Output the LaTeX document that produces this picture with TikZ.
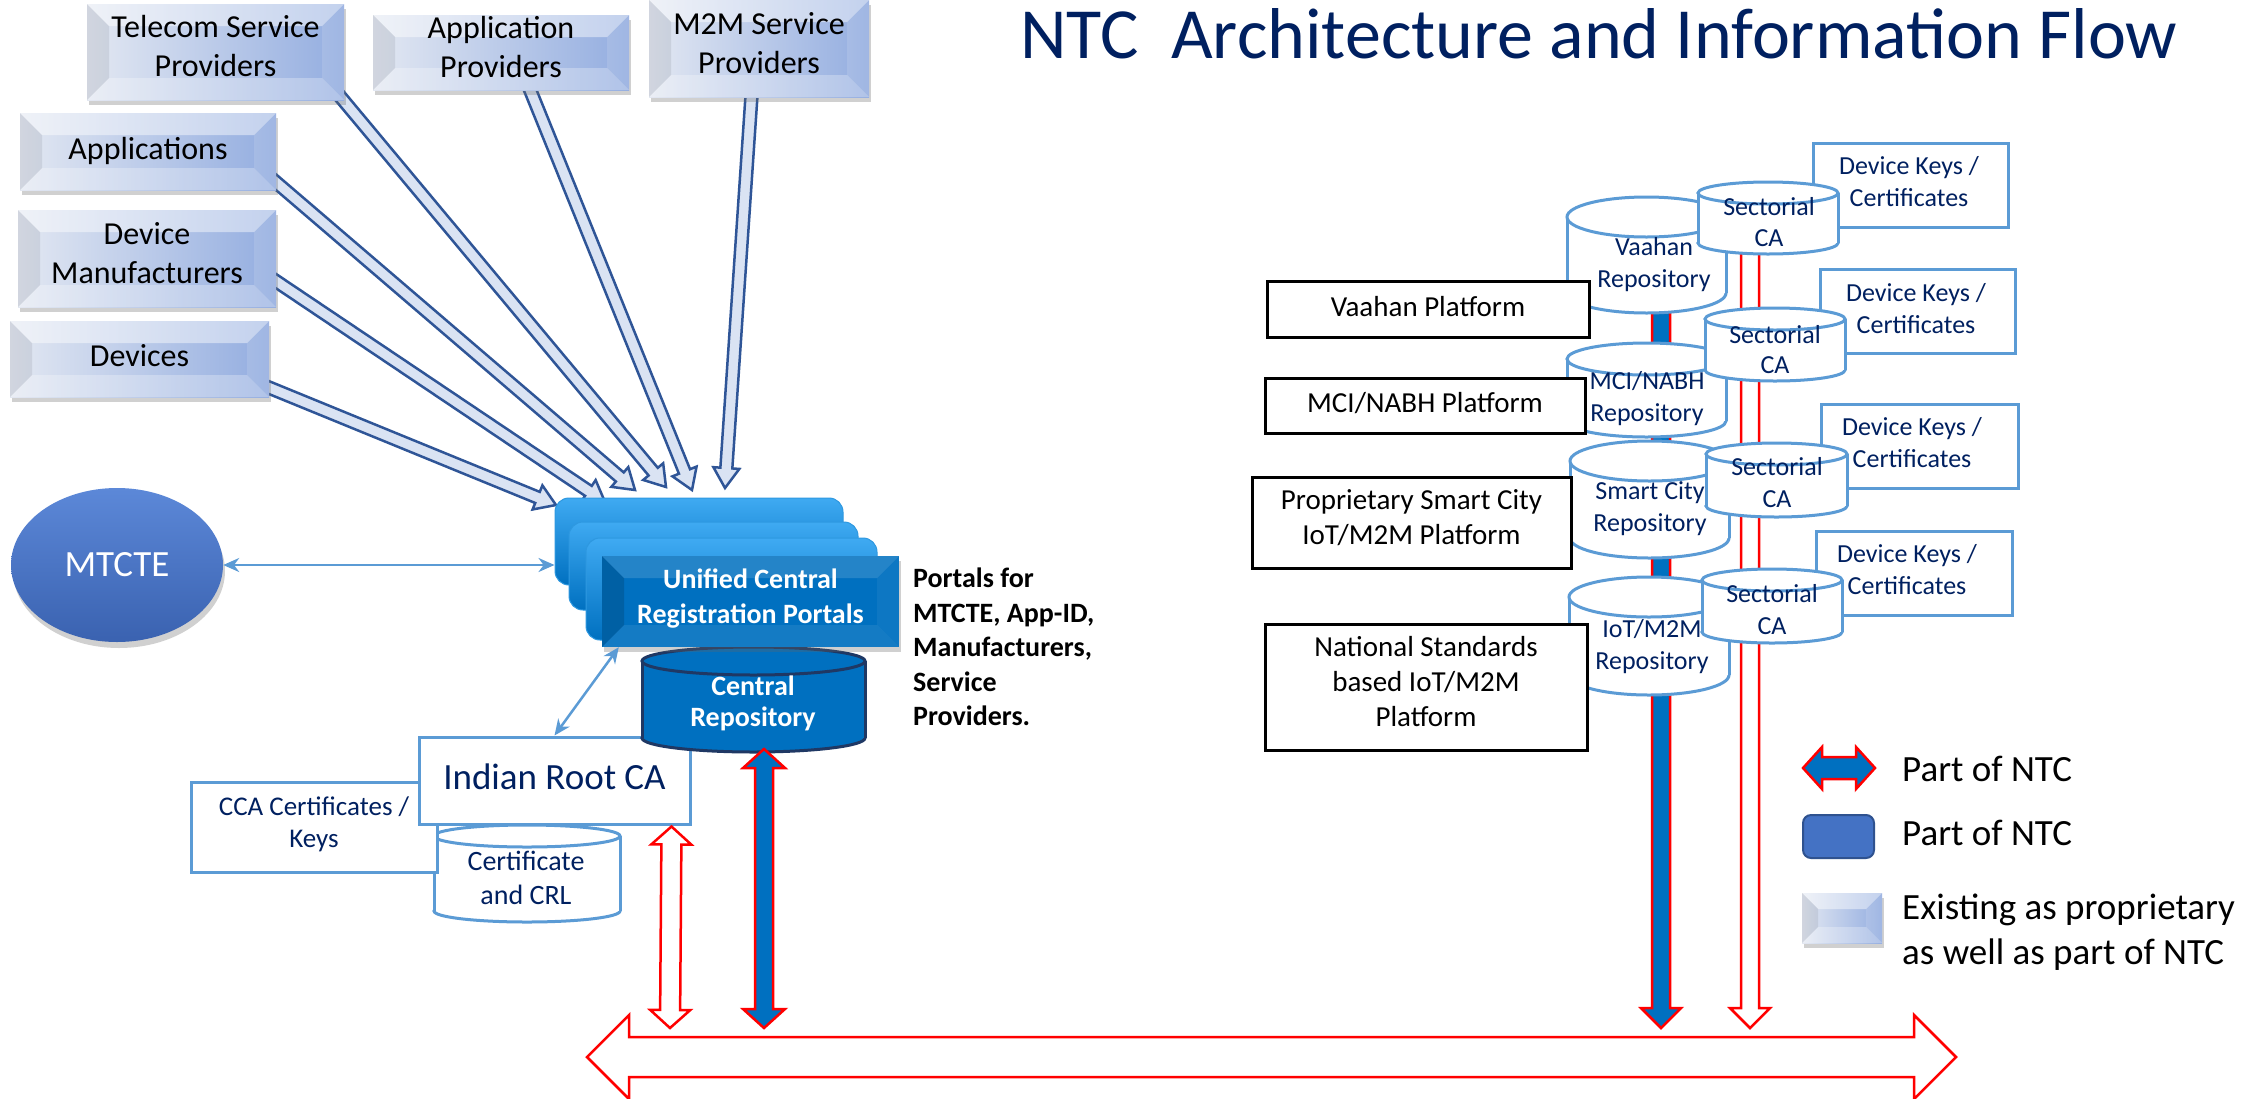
\documentclass[tikz,border=0pt]{standalone}
\usepackage{fontspec}
\setmainfont{Carlito}
\usetikzlibrary{calc,shapes.geometric,shadows,arrows.meta}
\pgfdeclarelayer{bgzero}
\pgfdeclarelayer{background}
\pgfsetlayers{bgzero,background,main}
\definecolor{navy}{HTML}{002060}
\definecolor{lbord}{HTML}{5B9BD5}
\definecolor{ntcblue}{HTML}{0070C0}
\definecolor{legblue}{HTML}{4472C4}
\definecolor{legbord}{HTML}{2F528F}
\definecolor{arrfill}{HTML}{DAE3F3}
\definecolor{arrbord}{HTML}{2F5597}
\definecolor{bvL}{HTML}{E3E8F2}
\definecolor{bvR}{HTML}{93ADE0}
\definecolor{crbord}{HTML}{1F3864}
\definecolor{pbtop}{HTML}{3FAAF2}
\definecolor{pbedge}{HTML}{2E98E0}
\definecolor{mtop}{HTML}{5C88D8}
\definecolor{mbot}{HTML}{3A62B0}
\newcommand{\fsz}[2]{\fontsize{#1}{#2}\selectfont}
\newcommand{\cylin}[6]{%
  \pgfmathsetmacro{\cylcx}{(#2+#3)/2}%
  \pgfmathsetlengthmacro{\cylrx}{(#3-#2)/2}%
  \draw[#1] (\cylcx,#5-#6) ellipse [x radius=\cylrx, y radius=#6pt];
  \fill[#1,draw=none] (#2,#4+#6) rectangle (#3,#5-#6);
  \draw[#1,fill=none] (#2,#4+#6) -- (#2,#5-#6) (#3,#4+#6) -- (#3,#5-#6);
  \draw[#1] (\cylcx,#4+#6) ellipse [x radius=\cylrx, y radius=#6pt];
}
% double headed block arrow: style, A, B, shaft half width, head half width, head length
\newcommand{\dblarrow}[6]{%
  \coordinate (da-1) at ($(#2)!#6!(#3)$);
  \coordinate (da-2) at ($(#3)!#6!(#2)$);
  \draw[#1] (#2) -- ($(da-1)!#5!90:(#3)$) -- ($(da-1)!#4!90:(#3)$) -- ($(da-2)!#4!90:(#3)$)
    -- ($(da-2)!#5!90:(#3)$) -- (#3) -- ($(da-2)!#5!-90:(#3)$) -- ($(da-2)!#4!-90:(#3)$)
    -- ($(da-1)!#4!-90:(#3)$) -- ($(da-1)!#5!-90:(#3)$) -- cycle;
}
% single headed block arrow
\newcommand{\sglarrow}[6]{%
  \coordinate (sa-1) at ($(#3)!#6!(#2)$);
  \draw[#1] ($(#2)!#4!90:(#3)$) -- ($(sa-1)!#4!90:(#3)$) -- ($(sa-1)!#5!90:(#3)$) -- (#3)
    -- ($(sa-1)!#5!-90:(#3)$) -- ($(sa-1)!#4!-90:(#3)$) -- ($(#2)!#4!-90:(#3)$) -- cycle;
}
\newcommand{\bevelpic}[5]{%
 \fill[white,opacity=#1] (path picture bounding box.north west) -- (path picture bounding box.north east) -- ([shift={(-#5pt,-#5pt)}]path picture bounding box.north east) -- ([shift={(#5pt,-#5pt)}]path picture bounding box.north west) -- cycle;
 \fill[black,opacity=#2] (path picture bounding box.north west) -- ([shift={(#5pt,-#5pt)}]path picture bounding box.north west) -- ([shift={(#5pt,#5pt)}]path picture bounding box.south west) -- (path picture bounding box.south west) -- cycle;
 \fill[white,opacity=#3] (path picture bounding box.north east) -- ([shift={(-#5pt,-#5pt)}]path picture bounding box.north east) -- ([shift={(-#5pt,#5pt)}]path picture bounding box.south east) -- (path picture bounding box.south east) -- cycle;
 \fill[white,opacity=#4] (path picture bounding box.south west) -- ([shift={(#5pt,#5pt)}]path picture bounding box.south west) -- ([shift={(-#5pt,#5pt)}]path picture bounding box.south east) -- (path picture bounding box.south east) -- cycle;
}
\begin{document}
\begin{tikzpicture}[x=1pt,y=-1pt,
  tx/.style={inner sep=0pt, align=center, execute at begin node=\strut, execute at end node=\strut},
  bevelbox/.style={tx, left color=bvL, right color=bvR, draw=none, font=\fsz{32}{39}, text=black,
     drop shadow={shadow xshift=2pt, shadow yshift=-5pt, opacity=.3, fill=black!60},
     path picture={\bevelpic{.45}{.08}{.12}{.28}{22}}},
  frontbox/.style={tx, fill=ntcblue, draw=none, font=\bfseries\fsz{28}{35}, text=white,
     drop shadow={shadow xshift=2pt, shadow yshift=-5pt, opacity=.3, fill=black!60},
     path picture={\bevelpic{.14}{.14}{.05}{.08}{22}}},
  portback/.style={rounded corners=14pt, top color=pbtop, bottom color=ntcblue, draw=pbedge, line width=1pt},
  lbox/.style={tx, draw=lbord, line width=3pt, fill=white, text=navy},
  plat/.style={tx, draw=black, line width=3pt, fill=white, text=black, font=\fsz{29}{35}},
  cylw/.style={draw=lbord, fill=white, line width=3pt},
  cylb/.style={draw=crbord, fill=ntcblue, line width=3pt},
  navytx/.style={tx, text=navy, font=\fsz{26}{32}},
  larrow/.style={fill=arrfill, draw=arrbord, line width=2.5pt, line join=miter},
  redhollow/.style={fill=white, draw=red, line width=2.5pt, line join=miter},
  redblue/.style={fill=ntcblue, draw=red, line width=2.5pt, line join=miter},
  lbarrow/.style={draw=lbord, line width=2.5pt, arrows={Stealth[length=16pt,width=14pt]-Stealth[length=16pt,width=14pt]}}
]
\useasboundingbox (0,0) rectangle (2245,1098);
\begin{pgfonlayer}{bgzero}
\fill[white] (0,0) rectangle (2245,1098);
\end{pgfonlayer}

% ---------------- bus ----------------
\coordinate (busL) at (587,1057);
\coordinate (busR) at (1956,1057);
\dblarrow{redhollow}{busL}{busR}{20pt}{42pt}{42pt}

% ---------------- right side ----------------
\coordinate (vbTop) at (1661,280);
\coordinate (vbBot) at (1661,1028);
\coordinate (vrTop) at (1750,215);
\coordinate (vrBot) at (1750,1028);
\dblarrow{redblue}{vbTop}{vbBot}{9pt}{20pt}{20pt}
\dblarrow{redhollow}{vrTop}{vrBot}{9pt}{20pt}{20pt}

\node[lbox, minimum width=195pt, minimum height=84pt] (dk1) at (1910.5,185) {};
\node[lbox, minimum width=195pt, minimum height=84pt] (dk2) at (1917.5,311) {};
\node[lbox, minimum width=197pt, minimum height=84pt] (dk3) at (1919.5,446) {};
\node[lbox, minimum width=196pt, minimum height=84pt] (dk4) at (1914,573) {};
\node[navytx] (dk1t) at (1909,186.5) {Device Keys /\\Certificates};
\node[navytx] (dk2t) at (1916,313) {Device Keys /\\Certificates};
\node[navytx] (dk3t) at (1912,447.6) {Device Keys /\\Certificates};
\node[navytx] (dk4t) at (1907,574.6) {Device Keys /\\Certificates};

\cylin{cylw}{1567}{1726}{197}{313}{20}
\node[navytx] (vrep) at (1654,267.6) {Vaahan\\Repository};
\cylin{cylw}{1567}{1726}{343}{437}{16}
\node[navytx] (mrep) at (1647,401) {MCI/NABH\\Repository};
\cylin{cylw}{1570}{1729}{441}{558}{20}
\node[navytx] (srep) at (1650,511) {Smart City\\Repository};
\cylin{cylw}{1569}{1729}{577}{695}{20}
\node[navytx] (irep) at (1652,649.6) {IoT/M2M\\Repository};

\cylin{cylw}{1698}{1838}{182}{254}{11}
\node[navytx,font=\fsz{26}{31}] (sca1) at (1769,226.3) {Sectorial\\CA};
\cylin{cylw}{1705}{1845}{308}{381}{11}
\node[navytx,font=\fsz{26}{30}] (sca2) at (1775,354) {Sectorial\\CA};
\cylin{cylw}{1706}{1847}{443}{517}{11}
\node[navytx] (sca3) at (1777,487.6) {Sectorial\\CA};
\cylin{cylw}{1702}{1842}{569}{643}{11}
\node[navytx] (sca4) at (1772,614.6) {Sectorial\\CA};

\node[plat, minimum width=322pt, minimum height=56pt] (vplat) at (1428,309) {Vaahan Platform};
\node[plat, minimum width=320pt, minimum height=55pt] (mplat) at (1425,405.5) {MCI/NABH Platform};
\node[plat, minimum width=319pt, minimum height=91pt] (splat) at (1411.5,522.5) {Proprietary Smart City\\IoT/M2M Platform};
\node[plat, minimum width=322pt, minimum height=126pt] (nplat) at (1426,687) {National Standards\\based IoT/M2M\\Platform};

% ---------------- left bottom ----------------
\cylin{cylw}{434}{620}{825}{922}{11}
\node[tx, text=navy, font=\fsz{28}{34}] (crl) at (526,883) {Certificate\\and CRL};
\node[lbox, font=\fsz{27}{32}, minimum width=246pt, minimum height=90pt] (cca) at (314,827) {CCA Certificates /\\Keys};
\node[lbox, font=\fsz{37}{44}, minimum width=271pt, minimum height=87pt] (rootca) at (554.5,780.5) {Indian Root CA};

\coordinate (rcTop) at ($(rootca.south east)+(-20,1)$);
\coordinate (rcBot) at (670,1028);
\dblarrow{redhollow}{rcTop}{rcBot}{10pt}{20pt}{18pt}

% central repository
\cylin{cylb}{642}{865}{647}{752}{14}
\node[tx, text=white, font=\bfseries\fsz{28}{31}] (crep) at (753,706) {Central\\Repository};
\coordinate (crTop) at (764,749);
\coordinate (crBot) at (764,1028);
\dblarrow{redblue}{crTop}{crBot}{9pt}{21pt}{19pt}

% portal stack
\node[portback, minimum width=288pt, minimum height=87pt, inner sep=0pt] (p1) at (699,541.5) {};
\node[portback, minimum width=289pt, minimum height=88pt, inner sep=0pt] (p2) at (713.5,566) {};
\node[portback, minimum width=291pt, minimum height=102pt, inner sep=0pt] (p3) at (731.5,589) {};
\node[frontbox, minimum width=297pt, minimum height=91pt] (front) at (750.5,601.5) {Unified Central\\Registration Portals};

\node[tx, anchor=west, align=left, font=\bfseries\fsz{28}{34.5}, text=black] (portals) at (913,652)
  {Portals for\\MTCTE, App-ID,\\Manufacturers,\\Service\\Providers.};

% MTCTE
\node[ellipse, minimum width=212pt, minimum height=154pt, inner sep=0pt, top color=mtop, bottom color=mbot,
  draw=none, text=white, font=\fsz{37}{44},
  drop shadow={shadow xshift=2pt, shadow yshift=-6pt, opacity=.3, fill=black!60}] (mtcte) at (117,565) {MTCTE};
\draw[lbarrow] (mtcte.east) -- (mtcte.east -| p1.west);
\draw[lbarrow] (rootca.north) -- ($(front.south west)+(17,0)$);

% source boxes
\node[bevelbox, minimum width=257pt, minimum height=96pt] (tsp) at (215.5,52) {Telecom Service\\Providers};
\node[bevelbox, minimum width=256pt, minimum height=75pt] (ap) at (501,52.5) {Application\\Providers};
\node[bevelbox, minimum width=220pt, minimum height=97pt] (m2m) at (759,48.5) {M2M Service\\Providers};
\node[bevelbox, minimum width=256pt, minimum height=77pt] (apps) at (148,151.5) {Applications};
\node[bevelbox, minimum width=258pt, minimum height=97pt] (dm) at (147,258.5) {Device\\Manufacturers};
\node[bevelbox, minimum width=259pt, minimum height=76pt] (dev) at (139.5,359) {Devices};

\coordinate (s1) at ($(dev.south east)+(-6,-12)$);
\coordinate (s2) at ($(dm.south east)+(-6,-30)$);
\coordinate (s3) at ($(apps.south east)+(-6,-13)$);
\coordinate (s4) at ($(tsp.south east)+(-6,-6)$);
\coordinate (s5) at ($(ap.south west)+(155,-6)$);
\coordinate (s6) at ($(m2m.south west)+(103,-6)$);
\coordinate (t1) at (556,505);
\coordinate (t2) at (605,502);
\coordinate (t3) at (635,490);
\coordinate (t4) at (666,487);
\coordinate (t5) at (692,490);
\coordinate (t6) at (725,488);
\begin{pgfonlayer}{background}
\sglarrow{larrow}{s1}{t1}{6pt}{13pt}{20pt}
\sglarrow{larrow}{s2}{t2}{6pt}{13pt}{20pt}
\sglarrow{larrow}{s3}{t3}{6pt}{13pt}{20pt}
\sglarrow{larrow}{s4}{t4}{6pt}{13pt}{20pt}
\sglarrow{larrow}{s5}{t5}{6pt}{13pt}{20pt}
\sglarrow{larrow}{s6}{t6}{6pt}{13pt}{20pt}
\end{pgfonlayer}

% ---------------- legend ----------------
\coordinate (lgA) at (1803,768);
\coordinate (lgB) at (1875,768);
\dblarrow{redblue}{lgA}{lgB}{11pt}{21pt}{19pt}
\node[tx, anchor=west, font=\fsz{37}{44}, text=black] (lg1) at (1902,773) {Part of NTC};
\node[draw=legbord, line width=2pt, fill=legblue, rounded corners=8pt, minimum width=71pt, minimum height=43pt, inner sep=0pt] (lgrect) at (1838.5,836.5) {};
\node[tx, anchor=west, font=\fsz{37}{44}, text=black] (lg2) at (1902,837) {Part of NTC};
\node[bevelbox, minimum width=80pt, minimum height=50pt, path picture={\bevelpic{.45}{.08}{.12}{.28}{16}}] (lgbev) at (1842,918) {};
\node[tx, anchor=west, align=left, font=\fsz{37}{45}, text=black] (lg3) at (1902,935.5) {Existing as proprietary\\as well as part of NTC};

% ---------------- title ----------------
\node[anchor=base west, inner sep=0pt, font=\fsz{72}{80}, text=navy] (title) at (1020,58) {NTC\ \ Architecture and Information Flow};
\end{tikzpicture}
\end{document}
